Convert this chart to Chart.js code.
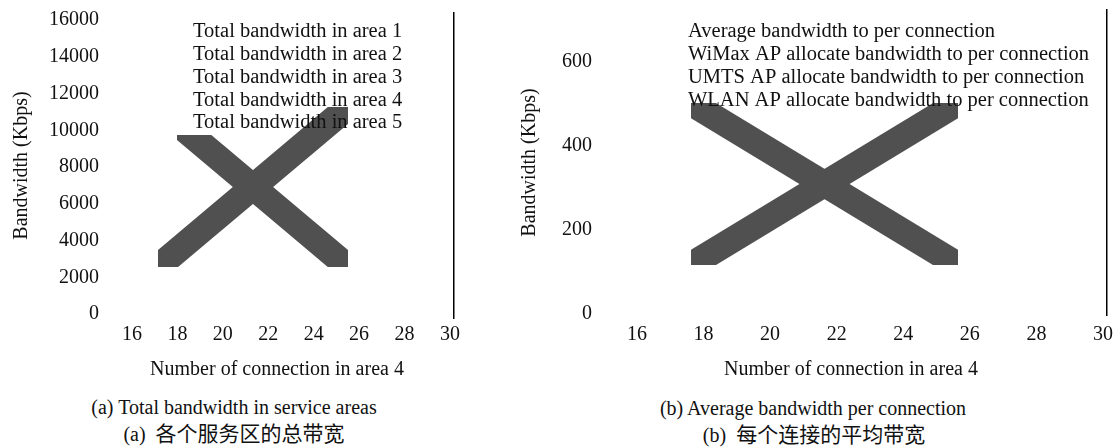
<!DOCTYPE html>
<html>
<head>
<meta charset="utf-8">
<script src="https://cdn.jsdelivr.net/npm/chart.js@4.4.1/dist/chart.umd.min.js"></script>
<style>
  body { margin: 0; width: 1115px; height: 448px; background: #fff; position: relative; overflow: hidden;
         font-family: "Liberation Serif", "Times New Roman", serif; color: #111; }
  canvas { position: absolute; top: 0; }
  #chartA { left: 0; }
  #chartB { left: 510px; }
  .cap { position: absolute; font-size: 20px; line-height: 24px; white-space: nowrap; transform: translateX(-50%); }
  .cap .zh { font-family: "Noto Sans CJK SC", sans-serif; font-size: 21px; }
</style>
</head>
<body>
<canvas id="chartA" width="470" height="390"></canvas>
<canvas id="chartB" width="620" height="390"></canvas>
<div class="cap" style="left:234px; top:395px">(a) Total bandwidth in service areas</div>
<div class="cap" style="left:234px; top:420px">(a)&nbsp; <span class="zh">各个服务区的总带宽</span></div>
<div class="cap" style="left:813px; top:396px">(b) Average bandwidth per connection</div>
<div class="cap" style="left:814px; top:421px">(b)&nbsp; <span class="zh">每个连接的平均带宽</span></div>
<script>
// tick labels
const X_TICKS = [16, 18, 20, 22, 24, 26, 28, 30];
const Y_TICKS_A = [0, 2000, 4000, 6000, 8000, 10000, 12000, 14000, 16000];
const Y_TICKS_B = [0, 200, 400, 600];

// series names (no curves are visible in the figure, only the names)
const SERIES_A = [
    "Total bandwidth in area 1",
    "Total bandwidth in area 2",
    "Total bandwidth in area 3",
    "Total bandwidth in area 4",
    "Total bandwidth in area 5"
];
const SERIES_B = [
    "Average bandwidth to per connection",
    "WiMax AP allocate bandwidth to per connection",
    "UMTS AP allocate bandwidth to per connection",
    "WLAN AP allocate bandwidth to per connection"
];

// the big grey cross (missing picture)
const CROSS_A_X = [16.26, 26.39];
const CROSS_A_UP = [1535, 12071];
const CROSS_A_DOWN = [12071, 1535];
const CROSS_B_X = [17.02, 26.25];
const CROSS_B_UP = [83.1, 526.4];
const CROSS_B_DOWN = [526.4, 83.1];

const FAMILY = '"Liberation Serif", "Times New Roman", serif';
const INK = "#111";

// draws the series names inside the plot, no markers
const legendText = {
    id: "legendText",
    afterDatasetsDraw: (chart, args, opts) => {
        const ctx = chart.ctx;
        ctx.save();
        ctx.font = "20.5px " + FAMILY;
        ctx.fillStyle = INK;
        ctx.textBaseline = "middle";
        ctx.textAlign = "left";
        chart.data.datasets.filter((d) => d.inLegend).forEach((d, i) => {
            ctx.fillText(d.label, opts.x, opts.y + i * opts.step);
        });
        ctx.restore();
    }
};

const crossLine = (xs, ys, clip) => ({
    label: "",
    inLegend: false,
    data: xs.map((x, i) => ({ x: x, y: ys[i] })),
    borderColor: "#505050",
    borderWidth: 26,
    borderCapStyle: "butt",
    pointRadius: 0,
    fill: false,
    tension: 0,
    clip: clip
});

const newChart = (id, o) => {
    const series = o.series.map((name) => ({ label: name, data: [], inLegend: true, pointRadius: 0 }));
    return new Chart(document.getElementById(id), {
        type: "line",
        data: { datasets: series.concat(o.cross) },
        options: {
            responsive: false,
            animation: false,
            devicePixelRatio: 1,
            layout: { padding: { top: o.top, left: 0, right: 0, bottom: 0 } },
            plugins: {
                legend: { display: false },
                tooltip: { enabled: false },
                legendText: o.legend
            },
            scales: {
                x: {
                    type: "linear",
                    min: o.xMin,
                    max: o.xMax,
                    afterBuildTicks: (s) => { s.ticks = X_TICKS.map((v) => ({ value: v })); },
                    afterFit: (s) => { s.height = o.xHeight; },
                    grid: { display: false, drawTicks: false },
                    border: { display: false },
                    ticks: { color: INK, padding: o.xPad, font: { family: FAMILY, size: 20, lineHeight: 1 }, callback: (v) => String(v) },
                    title: { display: true, text: "Number of connection in area 4", color: INK,
                             font: { family: FAMILY, size: 20, lineHeight: 1.2 }, padding: { top: 0, bottom: 8 } }
                },
                y: {
                    type: "linear",
                    min: o.yMin,
                    max: o.yMax,
                    afterBuildTicks: (s) => { s.ticks = o.yTicks.map((v) => ({ value: v })); },
                    afterFit: (s) => { s.width = o.yWidth; },
                    grid: { display: false, drawTicks: false },
                    border: { display: false },
                    ticks: { color: INK, padding: o.yPad, labelOffset: 2, font: { family: FAMILY, size: 20, lineHeight: 0.7 }, callback: (v) => String(v) },
                    title: { display: true, text: "Bandwidth (Kbps)", color: INK,
                             font: { family: FAMILY, size: 20, lineHeight: 1.2 }, padding: { top: o.yTitlePad, bottom: 0 } }
                },
                y2: {
                    position: "right",
                    afterFit: (s) => { s.width = o.rightWidth; },
                    ticks: { display: false },
                    grid: { display: false, drawTicks: false },
                    border: { display: true, color: "#000", width: 1.5 }
                }
            }
        },
        plugins: [legendText]
    });
};

newChart("chartA", {
    series: SERIES_A,
    cross: [
        crossLine(CROSS_A_X, CROSS_A_UP, { left: -58, top: -94, right: -106, bottom: -51 }),
        crossLine(CROSS_A_X, CROSS_A_DOWN, { left: -77, top: -122, right: -106, bottom: -51 })
    ],
    top: 13,
    xMin: 14.59, xMax: 30.18, xHeight: 72, xPad: 7,
    yMin: -326, yMax: 16272, yTicks: Y_TICKS_A, yWidth: 100, yPad: 1, yTitlePad: 10,
    rightWidth: 16,
    legend: { x: 193, y: 32, step: 22.75 }
});

newChart("chartB", {
    series: SERIES_B,
    cross: [
        crossLine(CROSS_B_X, CROSS_B_UP, { left: -96, top: -93, right: -149, bottom: -50 }),
        crossLine(CROSS_B_X, CROSS_B_DOWN, { left: -96, top: -93, right: -149, bottom: -50 })
    ],
    top: 10,
    xMin: 14.74, xMax: 30.12, xHeight: 75, xPad: 10,
    yMin: -7, yMax: 719, yTicks: Y_TICKS_B, yWidth: 85, yPad: 3, yTitlePad: 8,
    rightWidth: 23,
    legend: { x: 178, y: 32, step: 22.75 }
});
</script>
</body>
</html>
